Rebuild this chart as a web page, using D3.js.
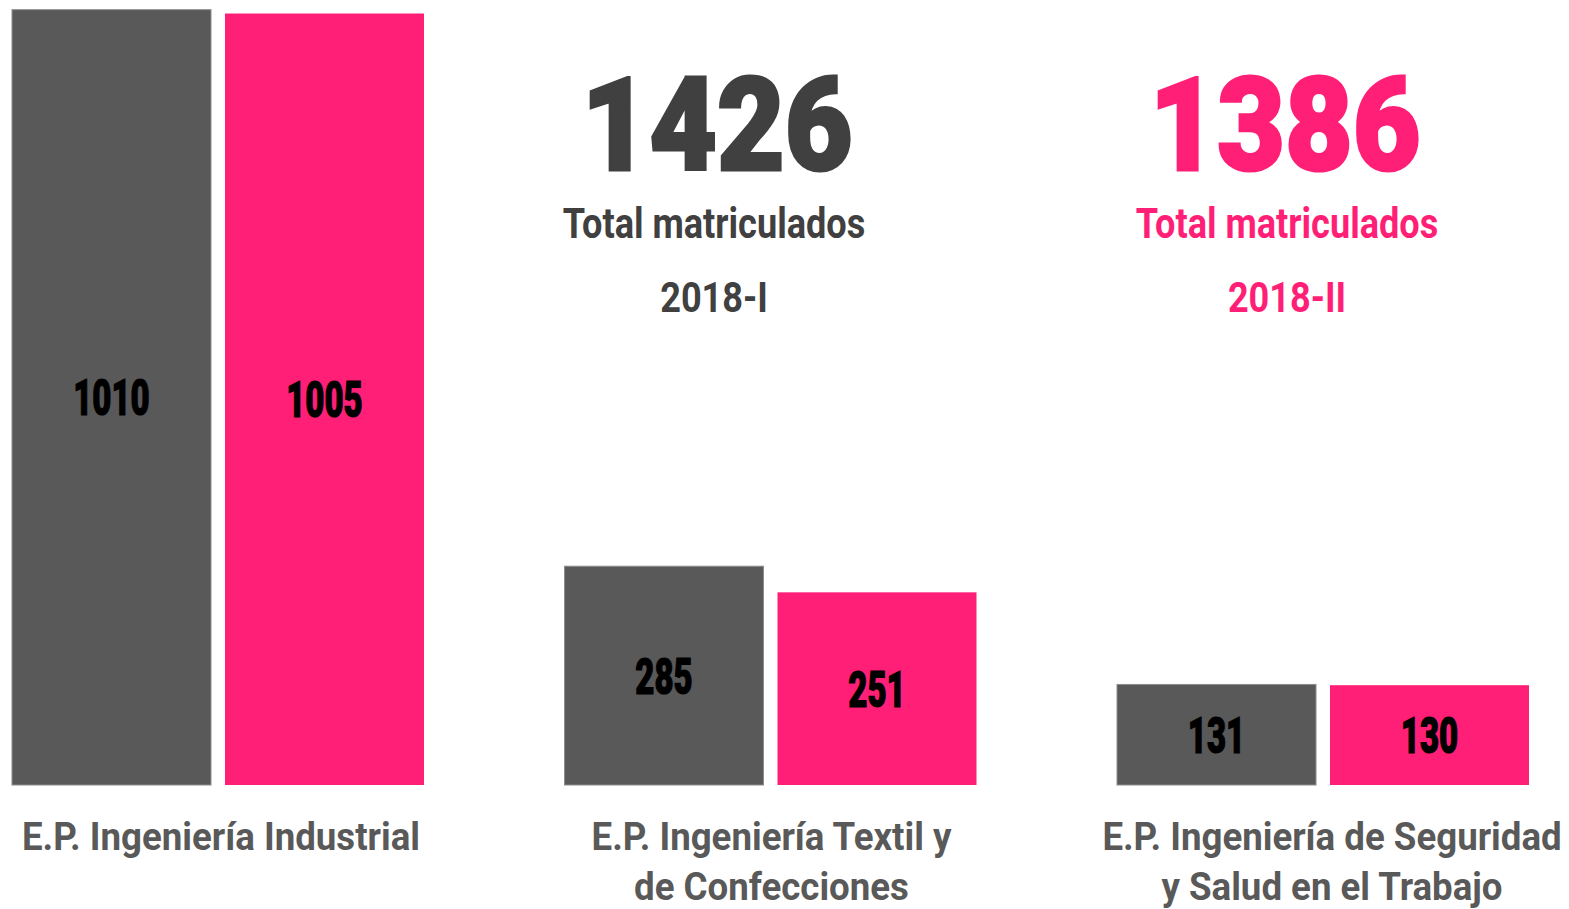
<!DOCTYPE html>
<html>
<head>
<meta charset="utf-8">
<script src="https://cdn.jsdelivr.net/npm/d3@7"></script>
<style>
  body { margin: 0; background: #fff; }
  text { font-family: Roboto, "DejaVu Sans", sans-serif; }
</style>
</head>
<body>
<div id="chart"></div>
<script>
// Data
const categories = ["E.P. Ingeniería Industrial", "E.P. Ingeniería Textil y de Confecciones", "E.P. Ingeniería de Seguridad y Salud en el Trabajo"];
const categoryLines = [["E.P. Ingeniería Industrial"], ["E.P. Ingeniería Textil y", "de Confecciones"], ["E.P. Ingeniería de Seguridad", "y Salud en el Trabajo"]];
const periods = ["2018-I", "2018-II"];
const values2018I = [1010, 285, 131];
const values2018II = [1005, 251, 130];
const totalLabel = "Total matriculados";

const width = 1569;
const height = 909;
const baseline = 785;

const colors = { "2018-I": "#595959", "2018-II": "#ff1f77" };
const totalColors = { "2018-I": "#404040", "2018-II": "#ff1f77" };

const seriesValues = { "2018-I": values2018I, "2018-II": values2018II };

// Scales
const x0 = d3.scaleBand()
    .domain(categories)
    .range([12, 1529])
    .paddingInner(0.2543)
    .paddingOuter(0);

const x1 = d3.scaleBand()
    .domain(periods)
    .range([0, x0.bandwidth()])
    .paddingInner(0.0657)
    .paddingOuter(0);

const y = d3.scaleLinear()
    .domain([0, 1020])
    .range([baseline, 2]);

const svg = d3.select("#chart")
    .append("svg")
    .attr("width", width)
    .attr("height", height);

// Bars
const groups = svg.selectAll(".group")
    .data(categories)
    .enter()
    .append("g")
    .attr("class", "group")
    .attr("transform", d => `translate(${x0(d)},0)`);

const barData = (c, i) => periods.map(p => ({ period: p, value: seriesValues[p][i] }));

groups.selectAll("rect")
    .data(barData)
    .enter()
    .append("rect")
    .attr("x", d => x1(d.period))
    .attr("y", d => y(d.value))
    .attr("width", x1.bandwidth())
    .attr("height", d => baseline - y(d.value))
    .attr("fill", d => colors[d.period])
    .attr("stroke", d => d.period === "2018-I" ? "#8c8c8c" : "none")
    .attr("stroke-width", 1);

// Value labels inside bars (condensed look)
groups.selectAll(".value")
    .data(barData)
    .enter()
    .append("text")
    .attr("class", "value")
    .attr("transform", d => `translate(${x1(d.period) + x1.bandwidth() / 2},${(y(d.value) + baseline) / 2 + 18}) scale(0.66,1)`)
    .style("text-anchor", "middle")
    .style("font-weight", 900)
    .style("font-size", "50px")
    .style("fill", "#000")
    .style("stroke", "#000")
    .style("stroke-width", 1.2)
    .text(d => d.value);

// Category labels (last group slightly offset like the original)
const labelShift = [3, 1, 9];
groups.each(function (c, i) {
    const g = d3.select(this);
    categoryLines[i].forEach((line, j) => {
        g.append("text")
            .attr("transform", `translate(${x0.bandwidth() / 2 + labelShift[i]},${850 + j * 50}) scale(0.94,1)`)
            .style("text-anchor", "middle")
            .style("font-weight", 700)
            .style("font-size", "39px")
            .style("fill", "#595959")
            .text(line);
    });
});

// Totals
const totalPos = { "2018-I": 714, "2018-II": 1287 };
const numberShift = { "2018-I": 3, "2018-II": -2 };
periods.forEach(p => {
    const total = d3.sum(seriesValues[p]);
    const g = svg.append("g").attr("transform", `translate(${totalPos[p]},0)`);
    g.append("text")
        .attr("transform", `translate(${numberShift[p]},170) scale(0.9,1)`)
        .style("text-anchor", "middle")
        .style("font-weight", 900)
        .style("font-size", "130px")
        .style("fill", totalColors[p])
        .style("stroke", totalColors[p])
        .style("stroke-width", 3)
        .text(total);
    g.append("text")
        .attr("transform", "translate(0,238) scale(0.86,1)")
        .style("text-anchor", "middle")
        .style("font-weight", 700)
        .style("font-size", "42px")
        .style("fill", totalColors[p])
        .text(totalLabel);
    g.append("text")
        .attr("transform", "translate(0,312) scale(0.86,1)")
        .style("text-anchor", "middle")
        .style("font-weight", 700)
        .style("font-size", "42px")
        .style("fill", totalColors[p])
        .text(p);
});
</script>
</body>
</html>
